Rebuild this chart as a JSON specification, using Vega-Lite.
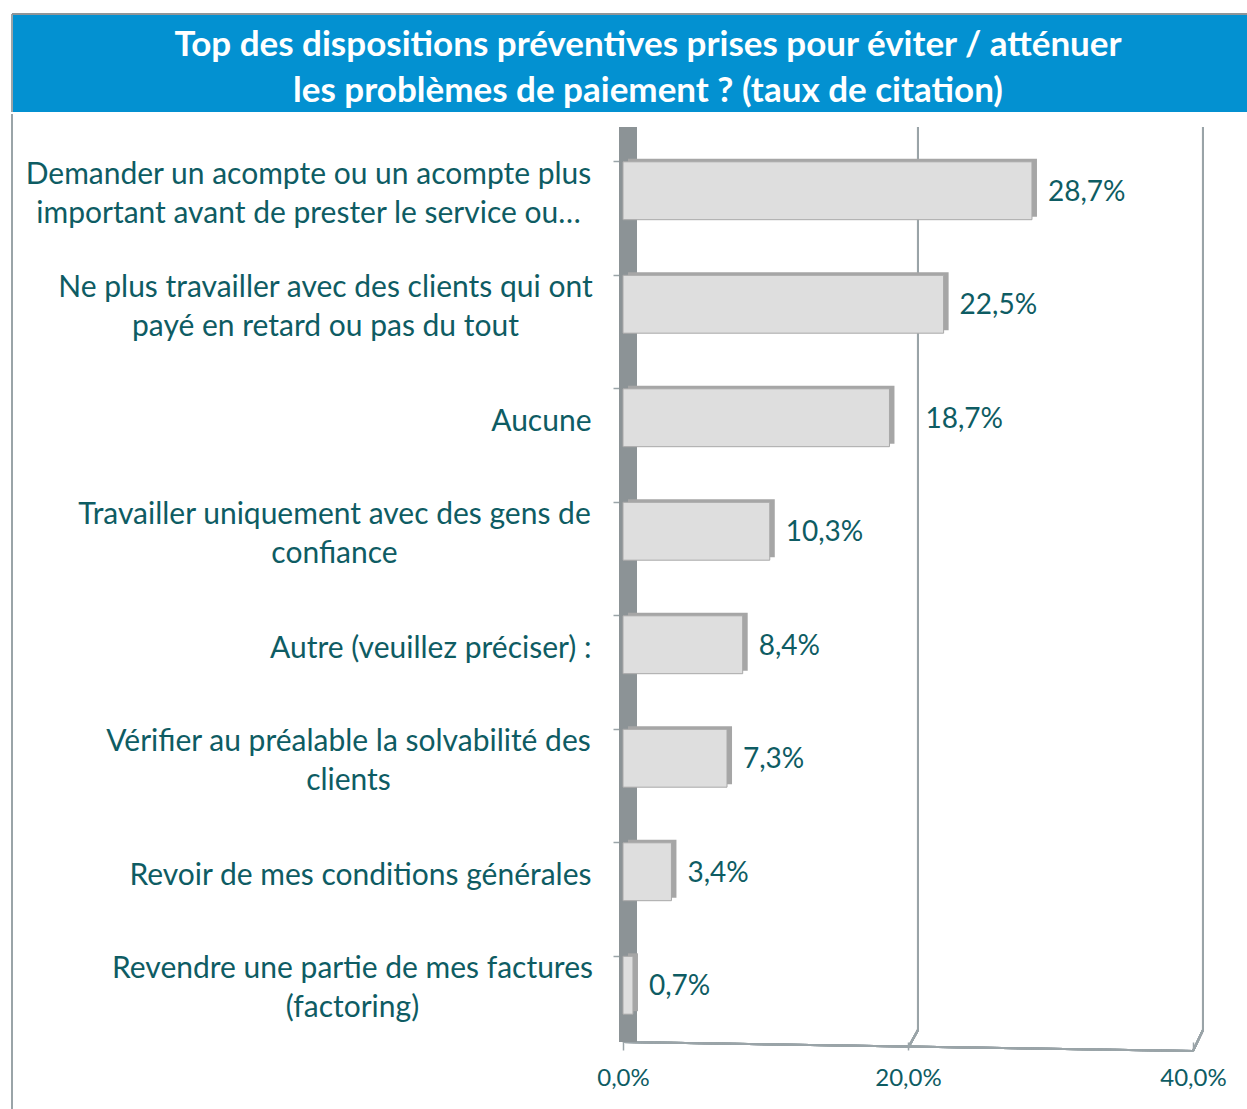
{
  "$schema": "https://vega.github.io/schema/vega-lite/v6.json",
  "padding": {"left": 11, "top": 13, "right": 0, "bottom": 0},
  "background": "white",
  "config": {"view": {"stroke": null}, "font": "Lato"},
  "vconcat": [
    {
      "width": 1236,
      "height": 98,
      "view": {"fill": "#0391d1", "stroke": null},
      "data": {"values": [
        {"n": 1, "line": "Top des dispositions préventives prises pour éviter / atténuer"},
        {"n": 2, "line": "les problèmes de paiement ? (taux de citation)"}
      ]},
      "encoding": {
        "x": {"datum": 0.5, "type": "quantitative", "scale": {"domain": [0, 1]}, "axis": null},
        "y": {"field": "n", "type": "ordinal", "axis": null, "scale": {"type": "point", "padding": 0.578}}
      },
      "layer": [
        {
          "mark": {"type": "text", "align": "center", "baseline": "middle", "font": "Lato", "fontWeight": "bold", "fontSize": 35, "color": "white", "yOffset": 5, "dx": 18},
          "encoding": {"text": {"field": "line"}}
        },
        {
          "mark": {"type": "rule", "color": "#9aa4a8", "strokeWidth": 2},
          "encoding": {"x": {"value": 0}, "y": null}
        },
        {
          "mark": {"type": "rule", "color": "#8f9598", "strokeWidth": 2},
          "encoding": {"y": {"value": 0}, "x": null}
        }
      ]
    },
    {
      "width": 1236,
      "height": 908,
      "data": {"values": [
        {"label": "Demander un acompte ou un acompte plus\nimportant avant de prester le service ou…", "value": 28.7},
        {"label": "Ne plus travailler avec des clients qui ont\npayé en retard ou pas du tout", "value": 22.5},
        {"label": "Aucune", "value": 18.7},
        {"label": "Travailler uniquement avec des gens de\nconfiance", "value": 10.3},
        {"label": "Autre (veuillez préciser) :", "value": 8.4},
        {"label": "Vérifier au préalable la solvabilité des\nclients", "value": 7.3},
        {"label": "Revoir de mes conditions générales", "value": 3.4},
        {"label": "Revendre une partie de mes factures\n(factoring)", "value": 0.7}
      ]},
      "encoding": {
        "y": {
          "field": "label", "type": "nominal", "sort": null,
          "scale": {"paddingInner": 0.49, "paddingOuter": 0.245},
          "axis": {
            "title": null, "domain": false, "ticks": true, "bandPosition": 0, "offset": -611,
            "tickSize": 10, "tickColor": "#9aa4a8", "tickWidth": 1.5,
            "labelExpr": "split(datum.value, '\\n')",
            "labelFont": "Lato", "labelFontSize": 30, "labelColor": "#0e5c63",
            "labelLineHeight": 39, "labelLimit": 700,
            "labelAlign": {"condition": {"test": "indexof(datum.value, '\\n') >= 0", "value": "center"}, "value": "right"},
            "labelOffset": {"condition": {"test": "indexof(datum.value, '\\n') >= 0", "value": -16}, "value": 4},
            "labelPadding": {"condition": [
              {"test": "indexof(datum.value, 'Demander') == 0", "value": 305},
              {"test": "indexof(datum.value, 'Ne plus') == 0", "value": 288},
              {"test": "indexof(datum.value, 'Travailler') == 0", "value": 279},
              {"test": "indexof(datum.value, 'Vérifier') == 0", "value": 265},
              {"test": "indexof(datum.value, 'Revendre') == 0", "value": 261}
            ], "value": 22}
          }
        },
        "x": {
          "field": "value", "type": "quantitative",
          "scale": {"domain": [-42.877, 43.86], "nice": false, "zero": false},
          "axis": {
            "title": null, "values": [0, 20, 40], "grid": false, "domain": false,
            "tickColor": "#9aa4a8", "tickSize": 8, "tickWidth": 1.5,
            "labelFont": "Lato", "labelFontSize": 24, "labelColor": "#0e5c63", "labelPadding": 16,
            "labelExpr": "replace(format(datum.value, '.1f'), '.', ',') + '%'"
          }
        }
      },
      "layer": [
        {
          "mark": {"type": "rule", "color": "#9aa4a8", "strokeWidth": 2, "yOffset": -20, "y2Offset": 70},
          "encoding": {"x": {"value": 0}, "x2": null, "y": {"value": 0}, "y2": {"value": "height"}}
        },
        {
          "mark": {"type": "rule", "color": "#9aa4a8", "strokeWidth": 2, "xOffset": 10, "yOffset": -7, "y2Offset": -12},
          "encoding": {"x": {"datum": 20}, "y": {"value": 0}, "y2": {"value": "height"}}
        },
        {
          "mark": {"type": "rule", "color": "#9aa4a8", "strokeWidth": 2, "xOffset": 10, "yOffset": -7, "y2Offset": -12},
          "encoding": {"x": {"datum": 40}, "y": {"value": 0}, "y2": {"value": "height"}}
        },
        {
          "mark": {"type": "rule", "color": "#9aa4a8", "strokeWidth": 2, "xOffset": 10, "yOffset": -12, "y2Offset": 6},
          "encoding": {"x": {"datum": 20}, "x2": {"datum": 20}, "y": {"value": "height"}, "y2": {"value": "height"}}
        },
        {
          "mark": {"type": "rule", "color": "#9aa4a8", "strokeWidth": 2, "xOffset": 10, "yOffset": -12, "y2Offset": 9},
          "encoding": {"x": {"datum": 40}, "x2": {"datum": 40}, "y": {"value": "height"}, "y2": {"value": "height"}}
        },
        {
          "mark": {"type": "rule", "color": "#9aa4a8", "strokeWidth": 2, "y2Offset": 9},
          "encoding": {"x": {"datum": 0}, "x2": {"datum": 40}, "y": {"value": "height"}, "y2": {"value": "height"}}
        },
        {
          "mark": {"type": "rect", "color": "#8c9396", "xOffset": -4, "x2Offset": 14, "yOffset": -7},
          "encoding": {"x": {"datum": 0}, "x2": {"datum": 0}, "y": null}
        },
        {
          "mark": {"type": "bar", "color": "#a6a6a6", "xOffset": 5, "x2Offset": 3, "yOffset": -3},
          "encoding": {}
        },
        {
          "mark": {"type": "bar", "color": "#dedede", "stroke": "#a8a8a8", "strokeWidth": 1, "x2Offset": 3},
          "encoding": {}
        },
        {
          "transform": [
            {"filter": "datum.value != 18.7"},
            {"calculate": "replace(format(datum.value, '.1f'), '.', ',') + '%'", "as": "txt"}
          ],
          "mark": {"type": "text", "align": "left", "baseline": "middle", "dx": 16, "yOffset": 2, "font": "Lato", "fontSize": 28, "color": "#0e5c63"},
          "encoding": {"text": {"field": "txt"}}
        },
        {
          "transform": [
            {"filter": "datum.value == 18.7"},
            {"calculate": "replace(format(datum.value, '.1f'), '.', ',') + '%'", "as": "txt"}
          ],
          "mark": {"type": "text", "align": "left", "baseline": "middle", "dx": 36, "yOffset": 2, "font": "Lato", "fontSize": 28, "color": "#0e5c63"},
          "encoding": {"text": {"field": "txt"}}
        }
      ]
    }
  ],
  "spacing": 0
}
